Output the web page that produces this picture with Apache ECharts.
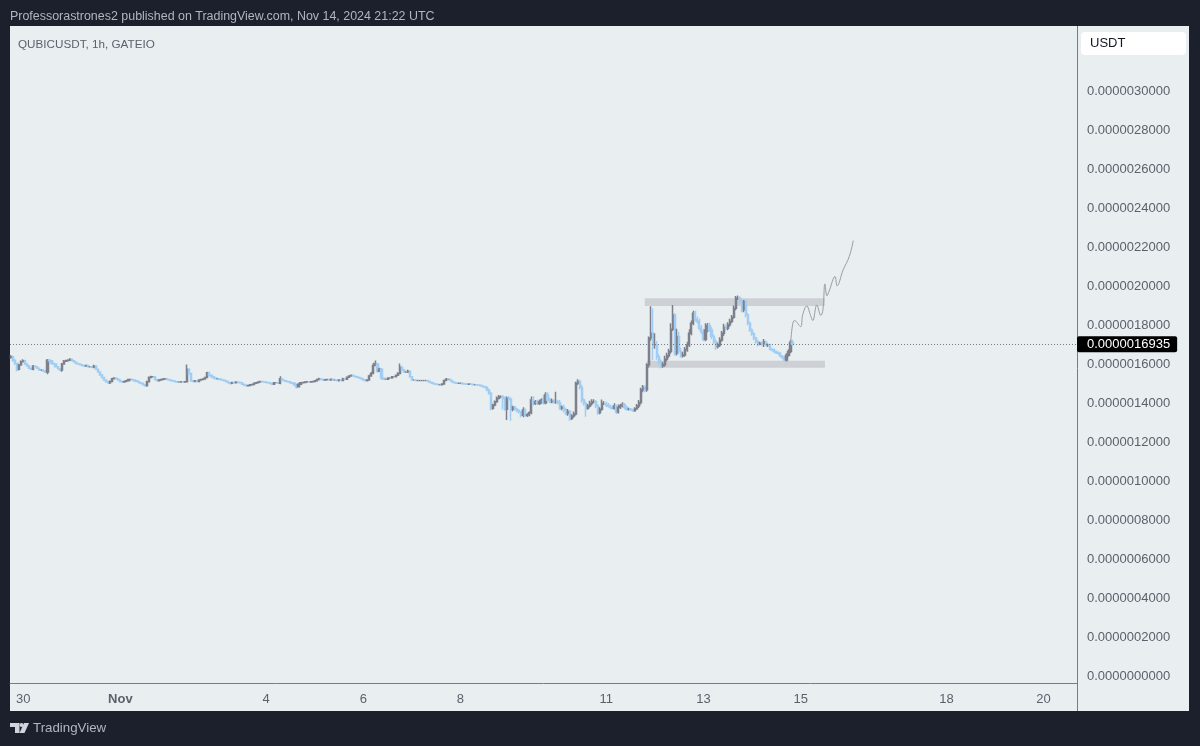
<!DOCTYPE html>
<html>
<head>
<meta charset="utf-8">
<style>
  html, body { margin: 0; padding: 0; background: #1c202c; }
  #main { width: 1200px; height: 746px; }
</style>
</head>
<body>
<div id="main"></div>
<script src="https://cdn.jsdelivr.net/npm/echarts@6/dist/echarts.min.js"></script>
<script>
// all prices are in units of 1e-9 USDT, the axis labels scale them back
const UNIT = 1e-9;

// hourly closes, first candle Oct 29 18:00
const closes = [
  1630,1612,1595,1565,1587,1604,1609,1592,1582,1570,1565,1582,1578,1570,1561,1561,1556,1551,1612,1609,
  1595,1592,1578,1568,1561,1592,1607,1609,1612,1616,1609,1602,1595,1592,1588,1585,1582,1585,1578,1578,
  1575,1582,1565,1551,1537,1523,1510,1501,1496,1503,1517,1520,1517,1510,1503,1500,1503,1506,1513,1513,
  1510,1506,1503,1496,1493,1486,1482,1501,1523,1527,1527,1513,1506,1510,1513,1515,1517,1513,1510,1506,
  1505,1501,1500,1500,1501,1500,1501,1565,1544,1506,1503,1506,1503,1510,1513,1515,1523,1547,1535,1527,
  1520,1517,1517,1513,1510,1506,1503,1496,1493,1498,1496,1500,1498,1496,1489,1484,1481,1482,1486,1487,
  1493,1496,1500,1503,1501,1500,1498,1496,1493,1489,1496,1496,1494,1517,1510,1506,1503,1501,1496,1493,
  1486,1476,1489,1496,1498,1500,1501,1500,1501,1503,1506,1513,1517,1513,1510,1511,1513,1510,1514,1510,
  1510,1507,1510,1507,1517,1514,1524,1531,1534,1531,1527,1524,1520,1517,1510,1507,1510,1531,1544,1585,
  1592,1555,1565,1520,1514,1514,1520,1520,1527,1527,1534,1544,1575,1561,1551,1551,1555,1527,1510,1510,
  1507,1507,1507,1507,1507,1507,1503,1498,1493,1490,1488,1486,1486,1490,1507,1514,1514,1507,1500,1496,
  1493,1493,1493,1491,1490,1488,1490,1488,1486,1486,1484,1483,1479,1476,1472,1459,1442,1365,1382,1399,
  1416,1425,1425,1414,1360,1416,1411,1360,1370,1360,1353,1346,1329,1356,1329,1332,1342,1407,1390,1397,
  1390,1397,1407,1394,1433,1407,1399,1401,1397,1397,1394,1365,1370,1356,1339,1348,1313,1325,1336,1493,
  1502,1472,1407,1390,1365,1377,1390,1399,1399,1377,1342,1360,1390,1390,1382,1377,1370,1365,1377,1346,
  1370,1377,1382,1370,1360,1360,1357,1353,1363,1377,1395,1460,1473,1460,1588,1725,1750,1690,1690,1630,
  1605,1583,1588,1617,1634,1656,1771,1844,1648,1733,1656,1634,1639,1665,1690,1750,1801,1853,1822,1810,
  1776,1759,1719,1767,1788,1767,1733,1707,1682,1690,1716,1750,1781,1776,1793,1810,1832,1878,1930,1930,
  1913,1870,1913,1844,1801,1767,1747,1725,1707,1696,1699,1696,1707,1690,1690,1668,1665,1656,1651,1648,
  1634,1627,1613,1637,1656,1702,1693.5
];
const firstOpen = 1625;

// wick length above the candle body
const wickUp = [
  8,6,5,4,6,6,8,5,4,5,4,5,4,4,3,4,3,3,6,5,
  4,5,4,4,3,6,6,5,5,6,4,4,5,4,4,3,4,4,5,4,
  4,6,4,4,3,3,3,3,3,4,4,4,3,3,3,3,3,3,4,3,
  3,3,3,3,3,3,3,5,5,5,4,3,3,4,3,3,3,3,3,3,
  3,3,3,3,3,3,3,25,6,3,3,3,3,3,4,3,4,6,6,4,
  4,3,3,3,3,3,3,3,3,3,3,3,3,3,3,3,3,3,3,3,
  3,3,3,3,3,3,3,3,3,3,4,3,3,12,4,3,3,3,3,3,
  3,3,4,4,3,3,3,3,3,3,4,4,5,4,3,3,4,3,3,3,
  3,3,3,3,5,3,4,4,4,3,3,3,3,3,3,3,3,6,8,14,
  18,6,8,5,4,3,4,3,4,3,4,6,20,8,5,4,8,5,3,3,
  3,3,3,3,3,3,3,3,3,3,3,3,3,3,5,6,3,3,3,3,
  3,3,3,3,3,3,3,3,3,3,3,3,3,4,4,6,6,8,6,6,
  10,8,6,8,12,10,12,10,8,8,8,8,6,14,8,8,8,18,20,10,
  12,12,10,25,14,14,12,14,12,53,12,14,10,14,10,14,8,10,12,8,
  12,10,14,10,8,10,14,12,12,8,10,10,20,12,10,10,8,10,14,8,
  14,12,14,10,8,8,6,6,8,10,12,10,12,10,8,8,139,128,60,20,
  14,12,14,18,16,14,30,51,10,40,25,20,16,14,16,20,14,12,12,14,
  14,16,14,34,14,16,14,10,12,12,14,12,18,14,14,14,12,14,11,14,
  10,14,8,10,8,8,8,8,6,10,8,10,14,6,8,6,5,5,5,5,
  5,5,6,10,12,14,15
];

// wick length below the candle body
const wickDown = [
  6,8,6,10,6,4,4,5,4,4,4,5,4,4,3,4,3,3,11,4,
  4,4,4,4,4,8,4,4,4,4,4,3,4,3,3,4,4,3,4,4,
  3,4,4,4,5,5,4,4,4,6,4,3,3,3,3,3,3,3,4,3,
  3,3,3,4,4,4,5,6,3,3,3,4,3,3,3,3,3,3,3,3,
  3,3,3,3,3,3,3,4,8,5,3,3,3,3,3,3,3,3,5,3,
  3,3,3,3,3,3,4,4,5,4,3,3,3,4,4,4,5,3,3,3,
  3,3,3,3,3,3,3,3,4,5,3,3,4,6,3,3,3,3,3,4,
  5,10,4,3,3,3,3,3,3,3,3,3,3,3,3,3,3,3,3,3,
  3,3,4,3,3,3,3,3,3,3,3,3,3,3,4,5,4,3,3,3,
  4,8,4,8,4,3,3,3,3,3,3,3,4,4,4,4,5,5,4,3,
  3,3,3,3,3,3,3,3,3,3,3,3,3,3,3,3,3,3,3,3,
  3,3,3,3,3,3,3,3,3,3,3,3,3,4,4,6,8,10,8,6,
  6,6,8,55,8,55,8,59,10,8,8,8,10,10,8,8,8,8,10,8,
  8,8,8,10,8,8,8,8,8,8,10,8,10,12,8,12,12,8,8,8,
  8,10,14,10,43,8,8,10,8,10,10,8,8,8,10,8,10,8,8,10,
  8,8,8,10,8,6,6,6,6,6,10,10,12,12,10,14,14,77,20,16,
  14,12,10,10,10,10,10,10,14,12,14,10,8,10,10,10,10,10,12,10,
  10,14,10,10,12,10,14,14,16,10,10,10,14,10,10,10,8,8,10,10,
  10,12,12,12,10,10,10,10,10,14,8,10,16,8,10,8,8,8,8,8,
  8,10,8,8,8,8,8
];

// hand drawn projection: candle slot, price
const projSlots = [385,386,387,390,391,393,395,396,398,400,401,402,403,404,407,408,411,414,416];
const projPrices = [1690,1793,1815,1784,1844,1890,1839,1815,1895,1841,1870,2003,1942,1964,2041,1993,2075,2143,2225];

// the two grey zones: from slot, to slot, top price, bottom price
const resistanceZone = [313, 402, 1929, 1890];
const supportZone = [314, 402, 1609, 1573];

const yTicks = [0, 200, 400, 600, 800, 1000, 1200, 1400, 1600, 1800, 2000, 2200, 2400, 2600, 2800, 3000];
const xTickSlots = [6, 54, 126, 174, 222, 294, 342, 390, 462, 510];
const xTickLabels = ['30', 'Nov', '4', '6', '8', '11', '13', '15', '18', '20'];
const lastPrice = 1693.5;

const SLOT_COUNT = 527;
const FONT = '"Liberation Sans", Arial, sans-serif';
const TEXT_GREY = '#5d606b';
const UP_COLOR = '#7d808a';
const DOWN_COLOR = '#a0cdf3';

// hourly slots along the time axis
const slots = [];
for (let i = 0; i < SLOT_COUNT; i++) {
    slots.push(new Date(Date.UTC(2024, 9, 29, 18 + i)).toISOString());
}

// [open, close, low, high]
const candles = closes.map(function (c, i) {
    const o = i === 0 ? firstOpen : closes[i - 1];
    return [o, c, Math.min(o, c) - wickDown[i], Math.max(o, c) + wickUp[i]];
});

const projection = projSlots.map(function (s, i) {
    return [s, projPrices[i]];
});

function zoneArea(zone) {
    return [
        { xAxis: zone[0], yAxis: zone[2] },
        { xAxis: zone[1], yAxis: zone[3] }
    ];
}

function priceLabel(v) {
    return (v * UNIT).toFixed(10);
}

const chart = echarts.init(document.getElementById('main'));

const option = {
    backgroundColor: '#1c202c',
    animation: false,
    textStyle: { fontFamily: FONT },
    graphic: [
        { type: 'rect', z: -1, shape: { x: 10, y: 26, width: 1179, height: 685 }, style: { fill: '#e9eef1' } },
        { type: 'line', z: 5, shape: { x1: 1077.5, y1: 26, x2: 1077.5, y2: 711 }, style: { stroke: '#787b86', lineWidth: 1 } },
        { type: 'rect', z: 5, shape: { x: 1081, y: 32, width: 105, height: 23, r: 4 }, style: { fill: '#ffffff' } },
        { type: 'text', z: 6, x: 1090, y: 37, style: { text: 'USDT', fill: '#131722', font: '13px ' + FONT } },
        { type: 'text', z: 6, x: 10, y: 11, style: { text: 'Professorastrones2 published on TradingView.com, Nov 14, 2024 21:22 UTC', fill: '#b2b5be', font: '12.45px ' + FONT } },
        { type: 'text', z: 6, x: 18, y: 39, style: { text: 'QUBICUSDT, 1h, GATEIO', fill: TEXT_GREY, font: '11.7px ' + FONT } },
        { type: 'text', z: 6, x: 33, y: 722, style: { text: 'TradingView', fill: '#b2b5be', font: '13.3px ' + FONT } },
        { type: 'polygon', z: 6, shape: { points: [[10, 723], [19.5, 723], [19.5, 733], [15, 733], [15, 727], [10, 727]] }, style: { fill: '#d1d4dc' } },
        { type: 'polygon', z: 6, shape: { points: [[24, 723], [29, 723], [24.5, 733], [19.5, 733]] }, style: { fill: '#d1d4dc' } },
        { type: 'circle', z: 6, shape: { cx: 21.5, cy: 725, r: 2 }, style: { fill: '#d1d4dc' } }
    ],
    grid: { left: 10, right: 123, top: 26, bottom: 63 },
    xAxis: {
        type: 'category',
        data: slots,
        boundaryGap: true,
        axisLine: { onZero: false, lineStyle: { color: '#787b86', width: 1 } },
        axisTick: { show: false },
        splitLine: { show: false },
        axisLabel: {
            margin: 10,
            color: TEXT_GREY,
            fontSize: 13,
            interval: function (index) {
                return xTickSlots.indexOf(index) !== -1;
            },
            formatter: function (value, index) {
                const label = xTickLabels[xTickSlots.indexOf(index)];
                return label === 'Nov' ? '{month|Nov}' : label;
            },
            rich: { month: { fontWeight: 'bold', fontSize: 13, color: TEXT_GREY } }
        }
    },
    yAxis: {
        type: 'value',
        position: 'right',
        min: -44,
        max: 3326,
        axisLine: { show: false },
        axisTick: { show: false },
        splitLine: { show: false },
        axisLabel: {
            margin: 10,
            customValues: yTicks,
            formatter: function (v) {
                return '{price|' + priceLabel(v) + '}';
            },
            // nudges the text down onto its tick
            rich: { price: { color: TEXT_GREY, fontSize: 13, padding: [3, 0, 0, 0] } }
        }
    },
    series: [
        {
            type: 'candlestick',
            data: candles,
            barWidth: '80%',
            itemStyle: {
                color: UP_COLOR,
                color0: DOWN_COLOR,
                borderColor: UP_COLOR,
                borderColor0: DOWN_COLOR,
                borderColorDoji: UP_COLOR,
                borderWidth: 1.5
            },
            markArea: {
                silent: true,
                itemStyle: { color: '#cdd0d4', opacity: 1 },
                data: [zoneArea(resistanceZone), zoneArea(supportZone)]
            },
            markLine: {
                silent: true,
                symbol: 'none',
                lineStyle: { color: '#787b86', type: [1, 2], width: 1 },
                label: {
                    position: 'end',
                    distance: 0,
                    formatter: priceLabel(lastPrice),
                    color: '#ffffff',
                    backgroundColor: '#000000',
                    fontSize: 13,
                    padding: [2, 7, 1, 10],
                    borderRadius: 2
                },
                data: [{ yAxis: lastPrice }]
            }
        },
        {
            type: 'line',
            data: projection,
            smooth: 0.4,
            symbol: 'none',
            lineStyle: { color: '#9a9da5', width: 1 }
        }
    ]
};

chart.setOption(option);
</script>
</body>
</html>
